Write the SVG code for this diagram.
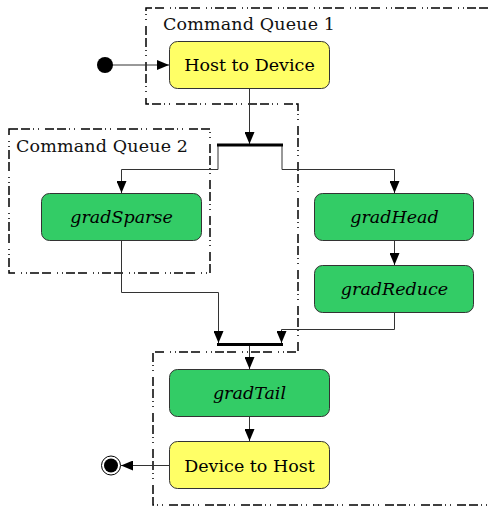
<svg xmlns="http://www.w3.org/2000/svg" width="488" height="507" viewBox="0 0 488 507">
<defs>
<marker id="arr" markerUnits="userSpaceOnUse" markerWidth="12" markerHeight="10" refX="12" refY="5" orient="auto">
<path d="M0,0 L12,5 L0,10 z" fill="#000"/>
</marker>
<style>
.region{fill:none;stroke:#000;stroke-width:1.5;stroke-dasharray:9 3 9 3 1 4 1 6}
.lbl{font-family:"DejaVu Serif",serif;font-size:17.5px;fill:#111}
.yel{fill:#ffff66;stroke:#333;stroke-width:1}
.grn{fill:#33cc66;stroke:#333;stroke-width:1}
.t{font-family:"DejaVu Serif",serif;font-size:17.5px;fill:#000;text-anchor:middle}
.it{font-style:italic}
.ca{fill:none;stroke:#333;stroke-width:1;marker-end:url(#arr)}
.bar{stroke:#000;stroke-width:3}
</style>
</defs>
<g id="cq1">
<path class="region" d="M488,8 H146 V104 H298 V352 H153 V505 H488"/>
<text class="lbl" x="163" y="30" textLength="172" lengthAdjust="spacing">Command Queue 1</text>
</g>
<g id="cq2">
<rect class="region" x="9" y="129" width="201" height="144"/>
<text class="lbl" x="16" y="152" textLength="172" lengthAdjust="spacing">Command Queue 2</text>
</g>
<g id="connectors">
<path class="ca" d="M112,65 H169"/>
<path class="ca" d="M249.5,88 V144"/>
<path class="ca" d="M218,145 V169.5 H121.5 V193"/>
<path class="ca" d="M282,145 V169.5 H394.5 V193"/>
<path class="ca" d="M394.5,241 V265"/>
<path class="ca" d="M121.5,241 V292.5 H218.5 V343"/>
<path class="ca" d="M394.5,313 V329.5 H281.5 V343"/>
<path class="ca" d="M249.5,345 V369"/>
<path class="ca" d="M249.5,417 V441"/>
<path class="ca" d="M170,465.5 H121"/>
</g>
<g id="start"><circle cx="105" cy="65" r="8" fill="#000"/></g>
<g id="fork"><line class="bar" x1="217" y1="145" x2="283" y2="145"/></g>
<g id="join"><line class="bar" x1="217" y1="344.5" x2="283" y2="344.5"/></g>
<g id="hostToDevice">
<rect class="yel" x="169.5" y="41.5" width="160" height="47" rx="8"/>
<text class="t" x="249.5" y="71">Host to Device</text>
</g>
<g id="gradSparse">
<rect class="grn" x="41.5" y="193.5" width="160" height="47" rx="8"/>
<text class="t it" x="121.5" y="223">gradSparse</text>
</g>
<g id="gradHead">
<rect class="grn" x="314.5" y="193.5" width="159" height="47" rx="8"/>
<text class="t it" x="394.5" y="223">gradHead</text>
</g>
<g id="gradReduce">
<rect class="grn" x="314.5" y="265.5" width="159" height="47" rx="8"/>
<text class="t it" x="394.5" y="295">gradReduce</text>
</g>
<g id="gradTail">
<rect class="grn" x="169.5" y="369.5" width="160" height="47" rx="8"/>
<text class="t it" x="249.5" y="399">gradTail</text>
</g>
<g id="deviceToHost">
<rect class="yel" x="169.5" y="441.5" width="160" height="47" rx="8"/>
<text class="t" x="249.5" y="472">Device to Host</text>
</g>
<g id="end">
<circle cx="111" cy="465.5" r="9.5" fill="#fff" stroke="#000" stroke-width="1"/>
<circle cx="111" cy="465.5" r="7" fill="#000"/>
</g>
</svg>
